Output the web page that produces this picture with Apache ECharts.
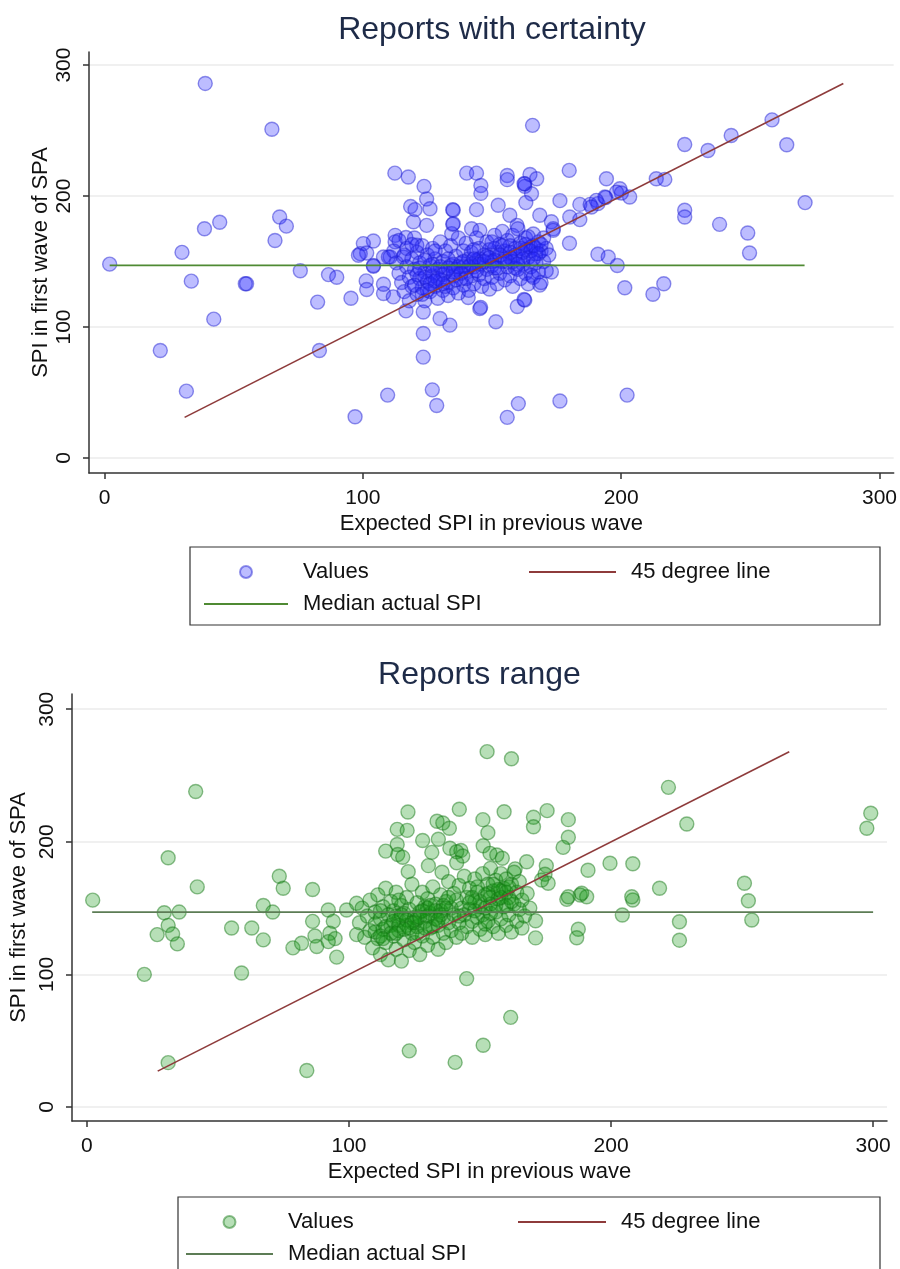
<!DOCTYPE html>
<html>
<head>
<meta charset="utf-8">
<script src="https://cdn.jsdelivr.net/npm/echarts@6/dist/echarts.min.js"></script>
<style>
html,body{margin:0;padding:0;background:#fff;overflow:hidden;}
#c1{position:absolute;left:0;top:0;width:900px;height:634px;}
#c2{position:absolute;left:0;top:634px;width:900px;height:720px;}
</style>
</head>
<body>
<div id="c1"></div>
<div id="c2"></div>
<script>
// ---------- data ----------
const tickValues = [0, 100, 200, 300];
const titles = ['Reports with certainty', 'Reports range'];
const legendNames = ['Values', '45 degree line', 'Median actual SPI'];
const xAxisTitle = 'Expected SPI in previous wave';
const yAxisTitle = 'SPI in first wave of SPA';

const certaintyPoints = [
[2,148],[21.6,82],[30,157],[31.7,51],[33.6,135],[38.7,175],[39,286],[42.3,106],[44.6,180],[54.5,133],[55,133],
[64.8,251],[66,166],[67.8,184],[70.4,177],[75.8,143],[82.5,119],[83.2,82],[86.7,140],[89.9,138],[95.4,122],
[97,31.5],[109.6,48],[123.4,95],[123.4,77],[126.9,52],[128.6,40],[155.9,31],[160.2,41.5],[176.3,43.5],[202.3,48],
[112.4,217.5],[117.6,214.5],[123.7,207.4],[124.7,197.7],[118.5,192],[120.2,189.6],[126,190.3],[119.6,180.4],[124.7,177.6],
[140.2,217.5],[144,217.5],[145.7,208],[145.7,202],[134.8,189.6],[144,189.6],[134.8,178.4],[134.4,171.3],[152.4,193],
[155.9,215.7],[155.9,212.5],[162.7,209.4],[162.7,207.4],[164.7,216.5],[167.3,213.2],[165.3,201.8],[163.1,195],
[156.9,185.3],[168.5,185.3],[179.9,219.6],[176.3,196.5],[194.3,213.2],[194,198.8],[184,193.6],[188,193.6],[191,194.2],
[180.1,184],[184,182],[173.7,175],[180,164],[191,155.5],[195,153.5],[198.5,147],[201.4,130],[212.3,125],[216.5,133],
[173,142],[159.7,177.6],[142.1,175],[145.3,173.8],[165.7,254],[224.6,239.4],[233.6,234.8],[242.6,246.2],[258.4,258.2],
[264.1,239.2],[271.2,195],[224.6,189.1],[224.6,184],[238.1,178.4],[249,171.8],[249.7,156.5],[213.6,213.2],[216.9,212.7],
[199.5,205.6],[200.1,202.3],[203.3,199.3],[198.2,203],[193.7,199.3],[190.4,196.7],[188.5,191.6],[173,180.4],[173.7,173.8],
[162.4,209.4],[135,189.1],[135,178.9],
[104.1,165.7],[100.2,163.7],[99,156],[101.5,156.5],[108,153.5],[110.6,153.5],[115.7,153.5],[104.1,147],[112.5,170],
[112.5,165],[116.7,168.3],[120.9,162.4],[116.7,112.3],[123.4,111.5],[129.9,106.5],[133.7,101.4],[145.3,114],[151.5,104],
[159.8,115.7],[162.7,120.5],[140.8,122.5],[145.6,115],[168.5,132],[165.3,139.5],[162.4,121],
[101.3,135.2],[101.5,128.6],[104.1,146.4],[108,125.6],[108,132.6],[111.8,123],[98.3,154.8],[109.9,153.5],
[112,158],[113,149],[114,141],[114,166],[115,134],[116,155],[116,127],[117,146],[117,160],[118,138],[118,120],[119,152],
[119,131],[120,144],[120,168],[121,125],[121,157],[122,137],[122,149],[123,130],[123,162],[124,142],[124,120],[125,155],
[125,135],[126,147],[126,127],[127,160],[127,139],[128,131],[128,152],[129,144],[129,122],[130,165],[130,136],[131,150],
[131,128],[132,142],[132,158],[133,134],[133,124],[134,147],[134,162],[135,139],[135,130],[136,154],[136,144],[137,126],
[137,168],[138,149],[138,137],[139,158],[139,132],[140,143],[140,164],[141,152],[141,128],[142,139],[142,157],[143,146],
[143,133],[144,168],[144,151],[145,140],[145,160],[146,131],[146,148],[147,155],[147,137],[148,165],[148,144],[149,129],
[149,159],[150,150],[150,138],[151,170],[151,145],[152,157],[152,133],[153,163],[153,141],[154,150],[154,173],[155,136],
[155,158],[156,146],[156,166],[157,139],[157,153],[158,170],[158,131],[159,160],[159,145],[160,152],[160,175],[161,137],
[161,164],[162,148],[162,157],[163,168],[163,141],[164,153],[164,133],[165,161],[165,146],[166,171],[166,138],[167,156],
[167,149],[168,165],[168,142],[169,158],[169,134],[170,168],[170,150],[171,160],[171,143],[172,155],[119,163],[127,148],
[133,152],[139,146],[145,152],[151,160],[157,162],[163,159],[124,151],[130,146],[136,136],[142,148],[148,154],[154,162],
[160,144],[166,162],[121,140],[128,158],[135,148],[143,159],[150,165],[158,150],[164,169],
[122,145],[124,138],[126,133],[127,142],[129,137],[131,140],[133,145],[135,142],[137,146],[139,150],[141,146],[143,152],
[145,148],[147,150],[149,153],[151,151],[153,155],[155,152],[157,157],[159,155],[161,160],[163,163],[165,158],[167,160],
[169,163],[125,128],[128,135],[132,131],[138,141],[144,143],[150,147],[156,150],[162,152],[168,156],[120,132],[123,125],
[131,133],[140,137],[152,145],[160,148],[166,152]
];

const rangePoints = [
[2.2,156],[21.9,100],[26.8,130],[29.5,146.5],[31,137],[31,188],[32.7,130.5],[34.5,123],[35.2,147],[41.5,238],[42.1,166],
[55.2,135],[59,101],[62.9,135],[67.3,152],[67.3,126],[70.9,147],[73.4,174],[74.9,165],[78.6,120],[81.9,123.5],[86.1,164],
[86.1,140],[87,129],[87.7,121],[92.1,148.6],[94,140],[92.7,131],[94.7,127],[92.1,124.7],[95.3,113],[99.1,148.6],
[102.9,153.6],[102.9,130],[31,33.4],[83.9,27.5],[123,42.3],[140.5,33.6],[151.2,46.5],[161.7,67.6],[144.9,96.8],
[122.5,222.5],[118.4,209.4],[122.2,208.6],[118.4,198],[114,193],[118.6,190.4],[120.5,188.3],[128.1,201],[131.6,192],
[134.1,201.9],[133.6,215.5],[135.8,214.2],[138.3,210.2],[130.3,182],[135.5,177],[122.6,177.5],[142.1,224.6],[151.1,216.7],
[153,206.9],[159.2,222.7],[170.4,218.5],[170.4,211.4],[175.6,223.5],[183.7,216.7],[183.7,203.4],[181.7,195.8],[138.5,195.1],
[142.7,193.5],[141.1,192.5],[143.4,189.3],[141.1,184.2],[151.2,197],[153.8,191.3],[156.4,190],[158.5,187.6],[167.8,185],
[163.4,179.6],[175.3,182],[174.8,175.5],[176,168.7],[173.5,171.2],[191.2,178.5],[199.6,183.8],[208.3,183.5],[218.5,165],
[250.9,168.7],[252.4,155.5],[253.7,141],[204.3,144.8],[208.3,156.1],[226.1,139.7],[226.1,125.8],[221.9,241.1],[228.9,213.4],
[299.1,221.5],[297.6,210.2],[152.7,268],[162,262.7],[183.1,156.6],[188.2,159.9],[190.7,158.6],[187.5,134],[186.9,127.6],
[171.2,140.5],[171.2,127.5],[183.7,158.6],[188.8,161.2],[207.9,158.6],
[104,139],[105,150],[106,128],[107,144],[108,133],[108,156],[109,120],[110,147],[110,138],[111,127],[111,160],[112,142],
[112,115],[113,151],[113,134],[114,124],[114,165],[115,145],[115,111],[116,137],[116,155],[117,129],[117,148],[118,119],
[118,162],[119,141],[119,133],[120,152],[120,110],[121,126],[121,146],[122,158],[122,137],[123,118],[123,149],[124,131],
[124,168],[125,143],[125,124],[126,154],[126,136],[127,147],[127,115],[128,162],[128,129],[129,140],[129,151],[130,122],
[130,157],[131,135],[131,146],[132,128],[132,166],[133,142],[133,153],[134,119],[134,137],[135,160],[135,148],[136,131],
[136,143],[137,155],[137,124],[138,139],[138,170],[139,150],[139,133],[140,145],[140,161],[141,128],[141,156],[142,139],
[142,167],[143,150],[143,131],[144,174],[144,145],[145,158],[145,136],[146,165],[146,149],[147,140],[147,128],[148,172],
[148,155],[149,143],[149,162],[150,134],[150,151],[151,176],[151,145],[152,160],[152,130],[153,168],[153,140],[154,153],
[154,180],[155,136],[155,163],[156,147],[156,171],[157,131],[157,157],[158,176],[158,142],[159,165],[159,151],[160,137],
[160,172],[161,158],[161,145],[162,168],[162,132],[163,153],[163,177],[164,140],[164,162],[165,149],[165,170],[166,135],
[166,156],[167,144],[168,161],[169,150],[118,144],[124,139],[130,150],[136,152],[142,144],[148,148],[154,158],[160,152],
[112,148],[119,156],[126,142],[132,136],[138,158],[146,154],[152,138],[158,163],
[110,132],[112,129],[114,136],[116,131],[117,140],[119,137],[120,145],[122,141],[123,135],[125,139],[127,143],[128,148],
[130,144],[131,152],[133,148],[135,145],[137,150],[150,155],[152,150],[154,146],[156,152],[158,158],[160,162],[162,155],
[155,168],[157,164],[113,127],[118,131],[121,134],[126,131],[129,135],[134,141],[147,158],[149,166],[153,161],[161,166]
];

const line45Certainty = [[31, 31], [286, 286]];
const medianCertainty = [[2, 147], [271, 147]];
const line45Range = [[27, 27], [268, 268]];
const medianRange = [[2, 147], [300, 147]];

// ---------- chart builder ----------
const FONT = '"Liberation Sans", Arial, Helvetica, sans-serif';

function build(el, cfg) {
  const chart = echarts.init(el, null, {renderer: 'canvas'});
  const g = cfg.grid;
  const plotCenterX = g.left + (900 - g.left - g.right) / 2;
  const axisCommon = {
    type: 'value',
    axisLine: {show: true, onZero: false, lineStyle: {color: '#333', width: 1.5}},
    axisTick: {show: true, customValues: tickValues, length: 6, lineStyle: {color: '#333', width: 1.5}},
    axisLabel: {customValues: tickValues, fontSize: 21, color: '#111', fontFamily: FONT},
    nameLocation: 'middle',
    nameMoveOverlap: false,
    nameTextStyle: {fontSize: 22, color: '#111', fontFamily: FONT}
  };
  const legText = {fontSize: 22, color: '#111', fontFamily: FONT, padding: [0, 0, 0, 10]};
  const hideSym = {opacity: 0};
  const option = {
    animation: false,
    backgroundColor: '#fff',
    graphic: [
      {type: 'text', x: plotCenterX, y: cfg.titleY, style: {text: cfg.title, align: 'center', verticalAlign: 'middle',
        font: '32px ' + FONT, fill: '#1e2b48'}},
      {type: 'rect', shape: cfg.box, style: {fill: 'none', stroke: '#333', lineWidth: 1.2}}
    ],
    grid: {left: g.left, right: g.right, top: g.top, height: g.height},
    xAxis: Object.assign({}, axisCommon, {
      min: cfg.xMin, max: cfg.xMax,
      name: xAxisTitle, nameGap: 40,
      axisLabel: Object.assign({}, axisCommon.axisLabel, {margin: 15}),
      splitLine: {show: false}
    }),
    yAxis: Object.assign({}, axisCommon, {
      min: cfg.yMin, max: cfg.yMax,
      name: yAxisTitle, nameGap: cfg.yNameGap,
      axisLabel: Object.assign({}, axisCommon.axisLabel, {rotate: 90, margin: 14}),
      splitLine: {show: true, lineStyle: {color: '#ebebeb', width: 1.5}}
    }),
    legend: [
      {data: [legendNames[0], {name: legendNames[2], itemStyle: hideSym}], orient: 'vertical',
       left: cfg.legLeft1 - 5, top: cfg.legTop, height: 200,
       itemWidth: cfg.legW1, itemHeight: 12, itemGap: 10, selectedMode: false, textStyle: legText},
      {data: [{name: legendNames[1], itemStyle: hideSym}], orient: 'vertical',
       left: cfg.legLeft2 - 5, top: cfg.legTop, height: 200,
       itemWidth: cfg.legW2, itemHeight: 12, selectedMode: false, textStyle: legText}
    ],
    series: [
      {name: legendNames[0], type: 'scatter', data: cfg.points, symbol: 'circle', symbolSize: 14,
       itemStyle: {color: cfg.fill, borderColor: cfg.border, borderWidth: 1.4}, z: 2},
      {name: legendNames[1], type: 'line', data: cfg.line45, symbol: 'none', silent: true,
       lineStyle: {color: '#8e3b3b', width: 1.6}, z: 3},
      {name: legendNames[2], type: 'line', data: cfg.median, symbol: 'none', silent: true,
       lineStyle: {color: cfg.medianColor, width: 1.8}, z: 3}
    ]
  };
  chart.setOption(option);
}

build(document.getElementById('c1'), {
  title: titles[0], titleY: 30,
  grid: {left: 89, right: 5, top: 52, height: 421},
  xMin: -6, xMax: 305.5, yMin: -11.5, yMax: 310, yNameGap: 37,
  box: {x: 190, y: 547, width: 690, height: 78},
  legLeft1: 203, legLeft2: 528, legTop: 556, legW1: 84, legW2: 87,
  points: certaintyPoints, line45: line45Certainty, median: medianCertainty,
  fill: 'rgba(40,40,255,0.38)', border: 'rgba(30,30,210,0.6)', medianColor: '#4f8a33'
});

build(document.getElementById('c2'), {
  title: titles[1], titleY: 41,
  grid: {left: 72, right: 13, top: 60, height: 427},
  xMin: -5.7, xMax: 305.3, yMin: -10.6, yMax: 311.5, yNameGap: 42,
  box: {x: 178, y: 563, width: 702, height: 120},
  legLeft1: 185, legLeft2: 517, legTop: 572, legW1: 87, legW2: 88,
  points: rangePoints, line45: line45Range, median: medianRange,
  fill: 'rgba(20,150,20,0.38)', border: 'rgba(20,120,20,0.6)', medianColor: '#5c7c55'
});
</script>
</body>
</html>
